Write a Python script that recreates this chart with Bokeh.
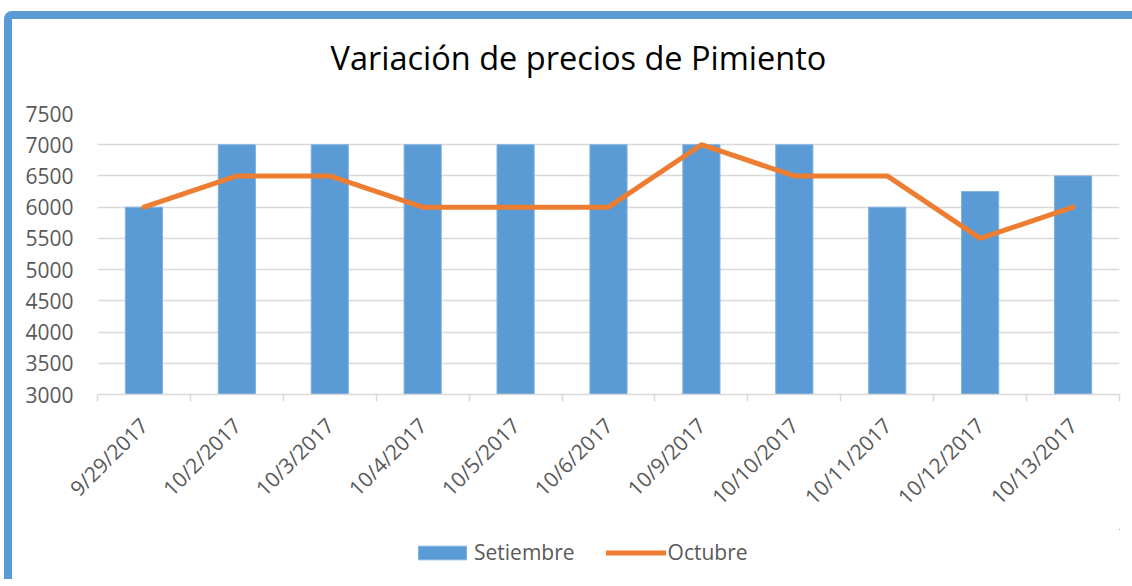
import math
from bokeh.plotting import figure
from bokeh.layouts import column, row
from bokeh.models import (ColumnDataSource, FixedTicker, Legend, LegendItem,
                          Range1d, Div)
from bokeh.embed import file_html
from bokeh.resources import INLINE

dates = ["9/29/2017", "10/2/2017", "10/3/2017", "10/4/2017", "10/5/2017",
         "10/6/2017", "10/9/2017", "10/10/2017", "10/11/2017", "10/12/2017",
         "10/13/2017"]
setiembre = [6000, 7000, 7000, 7000, 7000, 7000, 7000, 7000, 6000, 6250, 6500]
octubre = [6000, 6500, 6500, 6000, 6000, 6000, 7000, 6500, 6500, 5500, 6000]
y_ticks = [3000, 3500, 4000, 4500, 5000, 5500, 6000, 6500, 7000, 7500]
series_names = ["Setiembre", "Octubre"]
title_text = "Variación de precios de Pimiento"

FONT = "Open Sans"
TXT = "#595959"
GRID = "#d9d9d9"
BLUE = "#5b9bd5"
ORANGE = "#ed7d31"

idx = list(range(len(dates)))
src = ColumnDataSource(dict(x=idx, s=setiembre, o=octubre))

p = figure(width=1116, height=510, output_backend="svg", toolbar_location=None,
           x_range=Range1d(-0.5, len(dates) - 0.5),
           y_range=Range1d(y_ticks[0], y_ticks[-1]),
           min_border_left=85, min_border_right=9, min_border_top=94,
           min_border_bottom=135, margin=0)
p.outline_line_color = None
p.background_fill_color = "white"
p.border_fill_color = "white"

p.vbar(x="x", top="s", bottom=y_ticks[0], width=0.4, source=src,
       fill_color=BLUE, line_color="#7fb1e0", line_width=1)
p.line(x="x", y="o", source=src, line_color=ORANGE, line_width=5,
       line_cap="round", line_join="round")

# title
p.title.text = title_text
p.title.align = "left"
p.title.offset = 233
p.title.text_font = FONT
p.title.text_font_size = "32.5px"
p.title.text_font_style = "normal"
p.title.text_color = "#000000"
p.title.standoff = 10
p.title.padding = dict(left=0, right=0, top=0, bottom=29)

# y axis
ya = p.yaxis[0]
ya.ticker = FixedTicker(ticks=y_ticks)
ya.axis_line_color = None
ya.major_tick_line_color = None
ya.minor_tick_line_color = None
ya.major_label_standoff = 18
ya.major_label_text_font = FONT
ya.major_label_text_font_size = "21px"
ya.major_label_text_color = TXT

p.ygrid.ticker = FixedTicker(ticks=y_ticks)
p.ygrid.grid_line_color = GRID
p.ygrid.grid_line_width = 1.5
p.xgrid.grid_line_color = None

# x axis
xa = p.xaxis[0]
xa.ticker = FixedTicker(ticks=idx, minor_ticks=[i - 0.5 for i in range(len(dates) + 1)])
xa.major_label_overrides = {i: d for i, d in enumerate(dates)}
xa.major_label_orientation = math.pi / 4
xa.major_tick_line_color = None
xa.minor_tick_line_color = GRID
xa.minor_tick_line_width = 1.5
xa.minor_tick_in = 0
xa.minor_tick_out = 7
xa.axis_line_color = GRID
xa.axis_line_width = 1.5
xa.major_label_standoff = 20
xa.major_label_text_font = FONT
xa.major_label_text_font_size = "21px"
xa.major_label_text_color = TXT

# legend strip (separate small figure so the legend is not clipped);
# its glyphs reuse the data but the view range keeps them off-screen
lf = figure(width=1116, height=50, output_backend="svg", toolbar_location=None,
            x_axis_type=None, y_axis_type=None, min_border=0, margin=0,
            x_range=Range1d(-100, -99), y_range=Range1d(-100, -99))
lf.outline_line_color = None
lf.xgrid.grid_line_color = None
lf.ygrid.grid_line_color = None
lb = lf.vbar(x="x", top="s", width=0.4, source=src,
             fill_color=BLUE, line_color="#7fb1e0", line_width=1)
ll = lf.line(x="x", y="o", source=src, line_color=ORANGE, line_width=5,
             line_cap="round")
legend = Legend(items=[LegendItem(label=series_names[0], renderers=[lb]),
                       LegendItem(label=series_names[1], renderers=[ll])],
                orientation="horizontal", location=(315, 13),
                glyph_width=60, glyph_height=17, label_standoff=2, spacing=31,
                padding=0, margin=0, border_line_color=None,
                background_fill_alpha=0,
                label_text_font=FONT, label_text_font_size="21px",
                label_text_color=TXT)
lf.add_layout(legend, "center")

top_bar = Div(text="", width=1128, height=8, margin=(11, 0, 0, 4),
              styles={"background-color": BLUE, "border-top-left-radius": "8px"})
left_bar = Div(text="", width=8, height=560, margin=(0, 0, 0, 4),
               styles={"background-color": BLUE})

layout = column(top_bar, row(left_bar, column(p, lf, spacing=0), spacing=0),
                spacing=0)

open("out.html", "w").write(file_html(layout, INLINE))
